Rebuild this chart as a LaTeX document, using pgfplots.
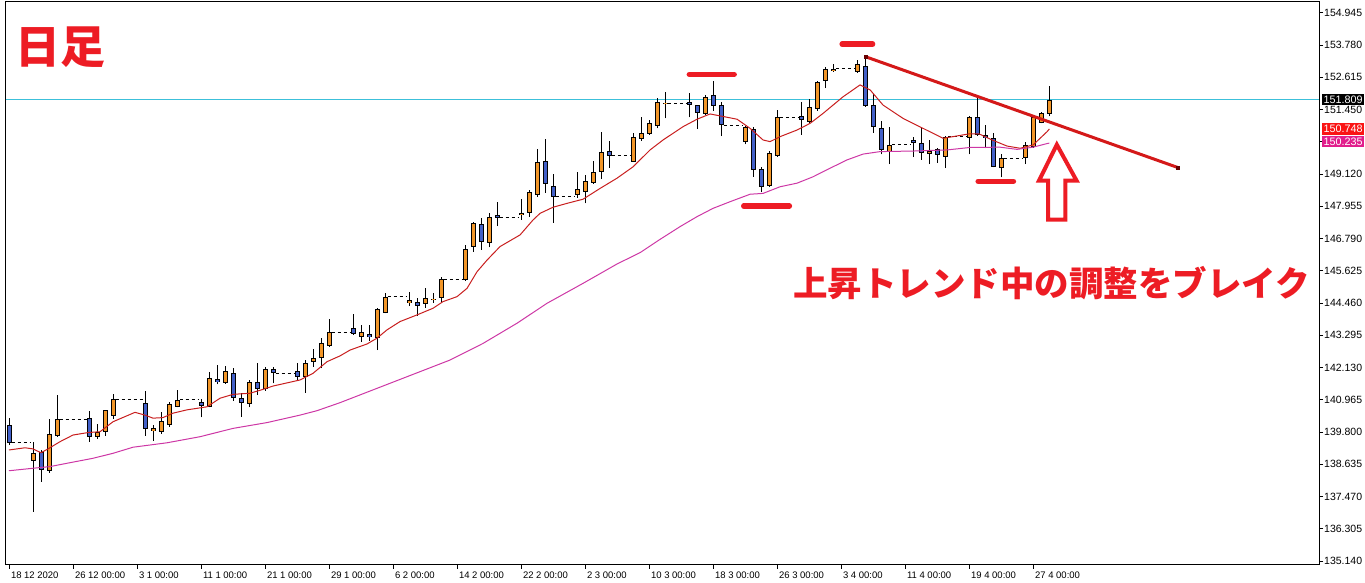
\documentclass[border=0pt]{standalone}
\usepackage{fontspec}
\setmainfont{Liberation Sans}
\newfontfamily\cjk{Noto Sans CJK JP}
\usepackage{pgfplots}
\usepackage{pgfplotstable}
\pgfplotsset{compat=1.18}

\definecolor{bull}{RGB}{242,150,40}
\definecolor{bear}{RGB}{66,96,200}
\definecolor{maRed}{RGB}{200,30,30}
\definecolor{maPink}{RGB}{205,55,165}
\definecolor{annoRed}{RGB}{237,28,36}
\definecolor{trendRed}{RGB}{212,25,25}
\definecolor{boxRed}{RGB}{250,20,20}
\definecolor{boxPink}{RGB}{225,30,140}
\definecolor{cyanLine}{RGB}{60,192,218}

% daily candles: slot, open, high, low, close
\pgfplotstableread{
i o h l c
0 140.05 140.30 139.33 139.41
3 138.76 139.43 136.92 139.03
4 139.07 139.15 138.00 138.42
5 138.39 140.26 138.33 139.72
6 139.67 141.14 139.63 140.26
10 140.30 140.57 139.45 139.61
11 139.61 140.09 139.54 139.79
12 139.81 140.60 139.67 140.60
13 140.39 141.17 140.28 140.99
17 140.84 141.28 139.67 139.90
18 139.85 140.05 139.49 139.93
19 139.81 140.51 139.73 140.19
20 140.05 140.90 139.99 140.80
21 140.71 141.32 140.69 140.96
24 140.87 140.99 140.33 140.75
25 140.71 141.96 140.69 141.74
26 141.72 142.22 141.52 141.60
27 141.58 142.19 141.54 142.00
28 141.92 142.10 140.93 141.02
29 141.02 141.20 140.35 140.84
30 140.80 141.68 140.69 141.60
31 141.60 142.30 141.14 141.34
32 141.34 142.14 141.29 142.07
33 142.07 142.14 141.56 141.92
36 142.00 142.28 141.68 141.80
37 141.80 142.40 141.22 142.28
38 142.34 142.79 142.16 142.46
39 142.49 143.19 142.10 143.01
40 142.92 143.88 142.88 143.40
43 143.55 144.06 143.31 143.33
44 143.24 143.67 143.06 143.40
45 143.33 143.67 143.10 143.24
46 143.19 144.27 142.76 144.23
47 144.09 144.81 144.09 144.69
50 144.45 144.85 144.36 144.56
51 144.49 144.63 144.00 144.36
52 144.41 144.99 144.29 144.63
53 144.60 144.83 144.47 144.61
54 144.63 145.41 144.47 145.32
57 145.29 146.56 145.27 146.40
58 146.47 147.40 146.31 147.34
59 147.30 147.52 146.38 146.68
60 146.64 147.70 146.47 147.56
61 147.64 148.10 147.24 147.54
64 147.67 148.22 147.46 147.69
65 147.70 148.54 147.58 148.46
66 148.35 150.01 148.30 149.57
67 149.60 150.39 148.45 148.75
68 148.70 149.11 147.36 148.30
71 148.37 149.20 148.27 148.57
72 148.48 149.09 148.06 148.86
73 148.81 149.59 148.76 149.18
74 149.20 150.63 148.94 149.91
75 149.94 150.31 149.33 149.78
78 149.57 150.59 149.55 150.45
79 150.39 151.17 150.32 150.59
80 150.57 151.07 150.53 150.95
81 150.87 151.86 150.77 151.73
82 151.67 152.10 151.13 151.68
85 151.73 152.04 151.17 151.61
86 151.61 151.62 150.74 151.34
87 151.28 151.98 151.25 151.89
88 151.98 152.49 151.41 151.58
89 151.60 151.73 150.49 150.88
92 150.27 150.84 150.19 150.81
93 150.74 150.81 149.02 149.27
94 149.30 149.39 148.48 148.66
95 148.70 149.95 148.66 149.87
96 149.78 151.43 149.75 151.17
99 151.21 151.73 150.53 151.06
100 151.01 151.82 150.98 151.53
101 151.46 152.49 151.41 152.46
102 152.48 152.98 152.22 152.90
103 152.85 153.10 152.82 152.93
106 152.81 153.24 152.78 153.08
107 153.02 153.38 151.55 151.59
108 151.60 152.01 150.61 150.81
109 150.77 151.04 149.83 149.99
110 149.93 150.81 149.48 150.17
113 150.35 150.47 149.73 150.25
114 150.23 150.77 149.63 149.89
115 149.84 150.35 149.48 149.96
116 150.01 150.05 149.53 149.80
117 149.75 150.49 149.33 150.47
120 150.41 151.22 149.83 151.17
121 151.17 151.94 150.50 150.52
122 150.52 150.88 150.05 150.41
123 150.41 150.61 149.36 149.36
124 149.33 149.84 149.00 149.69
127 149.69 150.29 149.48 150.17
128 150.09 151.22 150.07 151.17
129 150.98 151.37 150.95 151.31
130 151.29 152.30 151.20 151.809
}\ohlc

\begin{document}
\begin{tikzpicture}
\useasboundingbox (-5.7pt,-18pt) rectangle (1359.3pt,565pt);
\begin{axis}[
  scale only axis, width=1313.3pt, height=563pt,
  xmin=-0.45, xmax=163.7, ymin=134.995, ymax=155.335,
  clip=false,
  axis line style={line width=1pt},
  tick align=outside, major tick length=4pt,
  tick style={black, line width=0.8pt},
  xtick pos=bottom, ytick pos=right, yticklabel pos=right,
  xtick={0,8,16,24,32,40,48,56,64,72,80,88,96,104,112,120,128},
  xticklabels={18 12 2020, 26 12 00:00, 3 1 00:00, 11 1 00:00, 21 1 00:00,
    29 1 00:00, 6 2 00:00, 14 2 00:00, 22 2 00:00, 2 3 00:00, 10 3 00:00,
    18 3 00:00, 26 3 00:00, 3 4 00:00, 11 4 00:00, 19 4 00:00, 27 4 00:00},
  ytick={135.140,136.305,137.470,138.635,139.800,140.965,142.130,143.295,
    144.460,145.625,146.790,147.955,149.120,150.285,151.450,152.615,153.780,154.945},
  yticklabels={135.140,136.305,137.470,138.635,139.800,140.965,142.130,143.295,
    144.460,145.625,146.790,147.955,149.120,150.285,151.450,152.615,153.780,154.945},
  xticklabel style={font=\fontsize{9.5}{10}\selectfont, anchor=north west,
    inner sep=0pt, xshift=1.5pt, yshift=-3pt},
  yticklabel style={font=\fontsize{10.5}{11}\selectfont, anchor=west,
    inner sep=0pt, xshift=1pt},
  candle/.style={draw=none, mark=none, forget plot,
    error bars/y dir=both, error bars/y explicit, error bars/error mark=none},
]

% current price line
\addplot[cyanLine, line width=1.8pt] table[row sep=\\] {x y\\ -0.45 151.809\\ 163.7 151.809\\};

% weekend gaps
\addplot[black, line width=1pt, dash pattern=on 3.5pt off 2.5pt, unbounded coords=jump]
  coordinates {
  (0.3,139.41) (2.7,139.41) (3,nan)
  (6.3,140.26) (9.7,140.26) (10,nan)
  (13.3,140.99) (16.7,140.99) (17,nan)
  (21.3,140.96) (23.7,140.96) (24,nan)
  (33.3,141.92) (35.7,141.92) (36,nan)
  (40.3,143.40) (42.7,143.40) (43,nan)
  (47.3,144.69) (49.7,144.69) (50,nan)
  (54.3,145.32) (56.7,145.32) (57,nan)
  (61.3,147.54) (63.7,147.54) (64,nan)
  (68.3,148.30) (70.7,148.30) (71,nan)
  (75.3,149.78) (77.7,149.78) (78,nan)
  (82.3,151.68) (84.7,151.68) (85,nan)
  (89.3,150.88) (91.7,150.88) (92,nan)
  (96.3,151.17) (98.7,151.17) (99,nan)
  (103.3,152.93) (105.7,152.93) (106,nan)
  (110.3,150.17) (112.7,150.17) (113,nan)
  (117.3,150.47) (119.7,150.47) (120,nan)
  (124.3,149.69) (126.7,149.69)
  };

% wicks
\addplot[candle, error bars/y dir=plus,
  error bars/error bar style={draw=black, line width=1pt}]
  table[x=i, y=l, y error plus expr={\thisrow{h}-\thisrow{l}}] {\ohlc};
% body outline
\addplot[candle,
  error bars/error bar style={draw=black, line width=5.5pt, line cap=butt}]
  table[x=i, y expr={(\thisrow{o}+\thisrow{c})/2},
    y error expr={max(abs(\thisrow{c}-\thisrow{o})/2,0.018)}] {\ohlc};
% bullish bodies
\addplot[candle,
  error bars/error bar style={draw=bull, line width=3.5pt, line cap=butt}]
  table[x=i, y expr={\thisrow{c}>\thisrow{o} ? (\thisrow{o}+\thisrow{c})/2 : nan},
    y error expr={max(abs(\thisrow{c}-\thisrow{o})/2-0.036,0.001)}] {\ohlc};
% bearish bodies
\addplot[candle,
  error bars/error bar style={draw=bear, line width=3.5pt, line cap=butt}]
  table[x=i, y expr={\thisrow{c}<\thisrow{o} ? (\thisrow{o}+\thisrow{c})/2 : nan},
    y error expr={max(abs(\thisrow{c}-\thisrow{o})/2-0.036,0.001)}] {\ohlc};

% short moving average
\addplot[maRed, line width=1pt] coordinates {
  (-0.04,139.15) (1.96,139.23) (2.96,139.19) (3.96,139.05) (4.96,139.21) (6.34,139.45)
  (7.96,139.69) (9.84,139.78) (11.34,139.81) (12.96,140.17) (15.71,140.51) (16.96,140.41)
  (17.96,140.30) (19.21,140.32) (20.46,140.48) (22.21,140.60) (24.71,140.71) (26.34,141.02)
  (27.96,141.16) (30.09,141.20) (31.71,141.34) (32.96,141.46) (36.34,141.68) (37.96,141.92)
  (39.71,142.34) (41.34,142.55) (42.59,142.76) (44.71,142.98) (45.96,143.19) (47.21,143.49)
  (48.84,143.79) (50.96,144.03) (52.96,144.27) (54.21,144.51) (55.96,144.69) (57.21,144.99)
  (58.46,145.59) (59.71,146.01) (61.34,146.50) (63.84,146.92) (65.46,147.46) (66.34,147.70)
  (67.96,147.92) (69.71,148.06) (71.71,148.21) (73.84,148.60) (75.96,148.97) (77.96,149.38)
  (80.09,149.99) (81.71,150.35) (84.21,150.83) (85.96,151.10) (87.59,151.29) (88.84,151.22)
  (90.96,151.10) (92.59,150.77) (94.21,150.35) (95.09,150.29) (96.34,150.47) (98.46,150.71)
  (100.09,150.95) (101.71,151.31) (104.21,151.91) (106.34,152.34) (107.59,152.16)
  (109.21,151.61) (111.71,151.13) (114.21,150.77) (116.71,150.41) (119.96,150.57)
  (121.21,150.57) (122.84,150.35) (124.71,150.13) (126.34,150.05) (127.96,150.17)
  (129.71,150.65) (130,150.748)
};
% long moving average
\addplot[maPink, line width=1pt] coordinates {
  (-0.04,138.40) (2.96,138.49) (5.09,138.55) (7.21,138.67) (10.46,138.85) (12.96,139.03)
  (15.46,139.25) (19.71,139.41) (23.84,139.63) (27.96,139.93) (32.21,140.14) (36.34,140.41)
  (38.46,140.57) (41.34,140.86) (55.09,142.40) (59.21,143.00) (63.46,143.73) (67.21,144.45)
  (71.71,145.17) (75.96,145.87) (78.84,146.28) (81.34,146.76) (83.84,147.22) (85.96,147.58)
  (87.96,147.88) (90.09,148.12) (92.59,148.39) (94.21,148.42) (96.34,148.66) (98.46,148.79)
  (100.46,149.02) (102.59,149.33) (104.71,149.63) (106.71,149.84) (108.84,149.93)
  (112.96,149.95) (117.21,149.99) (120.09,150.08) (123.84,150.09) (125.96,150.01)
  (127.96,150.09) (129.84,150.23) (130,150.235)
};

% highs and lows marked
\addplot[annoRed, line width=5.5pt, line cap=round] coordinates {(85.0,152.72) (90.6,152.72)};
\addplot[annoRed, line width=5.5pt, line cap=round] coordinates {(104.1,153.81) (107.9,153.81)};
\addplot[annoRed, line width=5.5pt, line cap=round] coordinates {(91.8,147.965) (97.5,147.965)};
\addplot[annoRed, line width=5.5pt, line cap=round] coordinates {(121.1,148.857) (125.5,148.857)};

% trend line
\addplot[trendRed, line width=3pt, mark=square*, mark size=1.6pt,
  mark options={fill=black!60!red, draw=black!60!red, line width=0.5pt}]
  coordinates {(107,153.36) (146,149.36)};

% hollow arrow
\addplot[annoRed, line width=4pt, line join=miter, line cap=square] coordinates {
  (130.9,147.47) (132.0,147.47) (132.0,148.88) (133.4,148.88) (130.93,150.18)
  (128.7,148.88) (129.85,148.88) (129.85,147.47) (130.9,147.47)
};

\node[annoRed, font=\cjk\bfseries\fontsize{45}{50}\selectfont] at (axis cs:6.46,153.69) {日足};
\node[annoRed, font=\cjk\bfseries\fontsize{34.5}{40}\selectfont] at (axis cs:130.3,145.18)
  {上昇トレンド中の調整をブレイク};

% price labels on the scale
\node[fill=black, text=white, anchor=west, xshift=3pt, inner xsep=1.5pt, inner ysep=1.8pt,
  text height=7.5pt, text depth=0.5pt, font=\fontsize{10.8}{11}\selectfont]
  at (axis cs:163.7,151.809) {151.809};
\node[fill=boxRed, text=white, anchor=west, xshift=3pt, inner xsep=1.5pt, inner ysep=1.8pt,
  text height=7.5pt, text depth=0.5pt, font=\fontsize{10.8}{11}\selectfont]
  at (axis cs:163.7,150.748) {150.748};
\node[fill=boxPink, text=white, anchor=west, xshift=3pt, inner xsep=1.5pt, inner ysep=1.8pt,
  text height=7.5pt, text depth=0.5pt, font=\fontsize{10.8}{11}\selectfont]
  at (axis cs:163.7,150.29) {150.235};
\end{axis}
\end{tikzpicture}
\end{document}
